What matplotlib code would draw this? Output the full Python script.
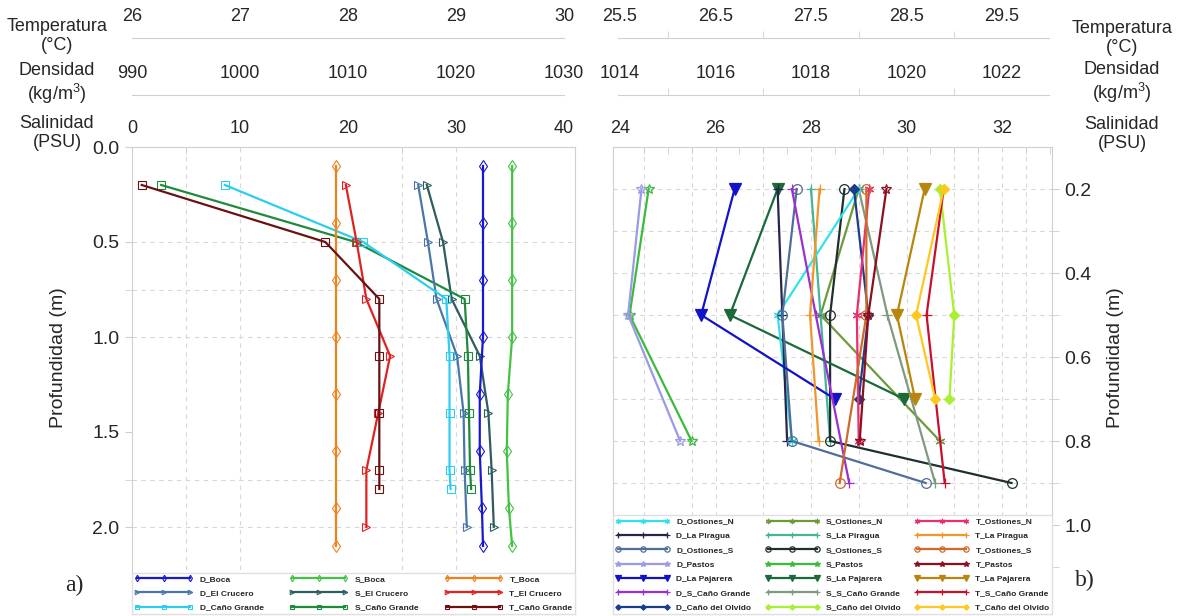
import matplotlib
matplotlib.use("Agg")
import matplotlib.pyplot as plt

plt.rcParams["font.family"] = ["Liberation Sans", "DejaVu Sans"]
plt.rcParams["mathtext.fontset"] = "custom"
plt.rcParams["mathtext.rm"] = "Liberation Sans"

# ---------------- a) Boca, El Crucero, Caño Grande ----------------
prof_boca = [0.1, 0.4, 0.7, 1.0, 1.3, 1.6, 1.9, 2.1]
dens_boca = [1022.5, 1022.5, 1022.5, 1022.5, 1022.2, 1022.2, 1022.4, 1022.5]
sal_boca = [35.2, 35.2, 35.2, 35.2, 34.8, 34.7, 34.9, 35.2]
temp_boca = [27.89, 27.89, 27.89, 27.89, 27.89, 27.89, 27.89, 27.89]

prof_crucero = [0.2, 0.5, 0.8, 1.1, 1.4, 1.7, 2.0]
dens_crucero = [1016.5, 1017.4, 1018.2, 1020.1, 1020.7, 1020.8, 1021.0]
sal_crucero = [27.3, 28.8, 29.6, 32.2, 33.0, 33.3, 33.5]
temp_crucero = [27.98, 28.08, 28.17, 28.39, 28.28, 28.17, 28.17]

prof_cgrande = [0.2, 0.5, 0.8, 1.1, 1.4, 1.7, 1.8]
dens_cgrande = [998.6, 1011.4, 1019.1, 1019.4, 1019.4, 1019.4, 1019.5]
sal_cgrande = [2.7, 20.7, 30.8, 31.1, 31.2, 31.3, 31.4]
temp_cgrande = [26.09, 27.79, 28.29, 28.29, 28.29, 28.29, 28.29]

# ---------------- b) resto de estaciones ----------------
p_a = [0.2, 0.5, 0.8]
p_b = [0.2, 0.5, 0.7]
p_c = [0.2, 0.5, 0.9]
p_d = [0.2, 0.5, 0.8, 0.9]

d_ost_n = [1019.0, 1017.3, 1017.6]
d_piragua = [1017.3, 1017.4, 1017.5]
d_ost_s = [1017.7, 1017.4, 1017.6, 1020.4]
d_pastos = [1014.45, 1014.17, 1015.26]
d_pajarera = [1016.4, 1015.7, 1018.5]
d_s_cgrande = [1017.6, 1018.1, 1018.8]
d_olvido = [1018.9, 1019.2, 1019.0]

s_ost_n = [29.0, 28.2, 30.7]
s_piragua = [28.0, 28.2, 28.4]
s_ost_s = [28.7, 28.4, 28.4, 32.2]
s_pastos = [24.6, 24.2, 25.5]
s_pajarera = [27.3, 26.3, 29.95]
s_s_cgrande = [29.0, 29.6, 30.6]
s_olvido = [30.7, 31.0, 30.9]

t_ost_n = [28.11, 27.98, 28.0]
t_piragua = [27.59, 27.49, 27.58]
t_ost_s = [28.08, 28.08, 27.8]
t_pastos = [28.29, 28.1, 28.01]
t_pajarera = [28.69, 28.4, 28.59]
t_s_cgrande = [28.89, 28.71, 28.9]
t_olvido = [28.89, 28.6, 28.8]

W, H = 1177, 616
GRIS = "#cfcfcf"
REJILLA = "#d8d8d8"
TXT = "#262626"

fig = plt.figure(figsize=(W / 100, H / 100), dpi=100)


def caja(x0, y0, x1, y1):
    # caja en pixeles (origen arriba a la izquierda) -> fraccion de figura
    return [x0 / W, 1 - y1 / H, (x1 - x0) / W, (y1 - y0) / H]


def rango(px0, px1, px_ref, v_ref, ppu):
    return (v_ref + (px0 - px_ref) / ppu, v_ref + (px1 - px_ref) / ppu)


def panel(box, ylim):
    ax_s = fig.add_axes(caja(*box))
    ax_s.set_ylim(*ylim)
    ax_d = ax_s.twiny()
    ax_t = ax_s.twiny()
    for a in (ax_d, ax_t):
        a.set_xticks([])
        for sp in a.spines.values():
            sp.set_visible(False)
    for sp in ax_s.spines.values():
        sp.set_color(GRIS)
    return ax_s, ax_d, ax_t


def escala(x0, x1, y, lims, etiquetas, marcas, fmt):
    e = fig.add_axes(caja(x0, y - 0.5, x1, y + 0.5))
    e.set_xlim(*lims)
    e.set_ylim(0, 1)
    for k, sp in e.spines.items():
        sp.set_visible(k == "top")
    e.spines["top"].set_color(GRIS)
    e.patch.set_visible(False)
    e.xaxis.set_ticks_position("top")
    e.set_xticks(etiquetas)
    e.set_xticklabels([fmt.format(v) for v in etiquetas])
    e.set_xticks(marcas, minor=True)
    e.tick_params(axis="x", which="major", length=0, pad=9, labelsize=13, labelcolor=TXT)
    e.tick_params(axis="x", which="minor", length=5, direction="out", color=GRIS)
    e.set_yticks([])


def rejilla(ax, hs, vs):
    for h in hs:
        ax.axhline(h, color=REJILLA, lw=0.8, ls=(0, (4, 4)), zorder=0)
    for v in vs:
        ax.axvline(v, color=REJILLA, lw=0.8, ls=(0, (4, 4)), zorder=0)


def leyenda(ax, handles, hl, colsp):
    lg = ax.legend(handles=handles, ncol=3, loc="lower left", bbox_to_anchor=(0, 0, 1, 0.1),
                   mode="expand", borderaxespad=0, numpoints=3, handlelength=hl,
                   handletextpad=0.8, columnspacing=colsp, labelspacing=0.78,
                   markerscale=0.55, prop={"size": 6, "weight": "bold"}, frameon=True,
                   fancybox=False, edgecolor="#e0e0e0", framealpha=1, borderpad=0.3)
    for t in lg.get_texts():
        t.set_color(TXT)
    return lg


# ================= panel a =================
box_a = (132, 147, 575, 614)
ax_as, ax_ad, ax_at = panel(box_a, ((614 - 147) / 190, 0.0))
ax_as.set_xlim(*rango(132, 575, 132, 0, 10.8))
ax_ad.set_xlim(*rango(132, 575, 132, 990, 10.8))
ax_at.set_xlim(*rango(132, 575, 132, 26, 108))

ax_as.xaxis.set_ticks_position("top")
ax_as.set_xticks([0, 10, 20, 30, 40])
ax_as.set_xticks([5, 10, 25, 30], minor=True)
ax_as.tick_params(axis="x", which="major", length=0, pad=7, labelsize=13, labelcolor=TXT)
ax_as.tick_params(axis="x", which="minor", length=5, direction="in", color=GRIS)
ax_as.set_yticks([0.0, 0.5, 1.0, 1.5, 2.0])
ax_as.set_yticklabels(["0.0", "0.5", "1.0", "1.5", "2.0"])
ax_as.set_yticks([0.75, 1.75], minor=True)
ax_as.tick_params(axis="y", which="both", length=5, color=GRIS, labelsize=14, labelcolor=TXT, pad=4)
ax_as.set_ylabel("Profundidad (m)", fontsize=14, color=TXT)
ax_as.yaxis.set_label_coords(-0.147, 0.548)
rejilla(ax_as, [0.5, 0.75, 1.0, 1.75, 2.0], [5, 10, 25, 30])

series_a = [
    ("D_Boca", ax_ad, prof_boca, dens_boca, "#1818d0", "d"),
    ("D_El Crucero", ax_ad, prof_crucero, dens_crucero, "#4a76a8", ">"),
    ("D_Caño Grande", ax_ad, prof_cgrande, dens_cgrande, "#2ccdf0", "s"),
    ("S_Boca", ax_as, prof_boca, sal_boca, "#44c244", "d"),
    ("S_El Crucero", ax_as, prof_crucero, sal_crucero, "#2f5c5e", ">"),
    ("S_Caño Grande", ax_as, prof_cgrande, sal_cgrande, "#1f8a3c", "s"),
    ("T_Boca", ax_at, prof_boca, temp_boca, "#f0821e", "d"),
    ("T_El Crucero", ax_at, prof_crucero, temp_crucero, "#e02222", ">"),
    ("T_Caño Grande", ax_at, prof_cgrande, temp_cgrande, "#6a1212", "s"),
]
h_a = []
for nombre, ax, prof, val, col, mk in series_a:
    ln, = ax.plot(val, prof, color=col, lw=1.6, marker=mk, ms=6, mfc="none",
                  mec=col, mew=0.8, label=nombre)
    h_a.append(ln)
leyenda(ax_at, h_a, 7.0, 1.5)

escala(132, 564, 38, (26, 30), [26, 27, 28, 29, 30], [27, 29], "{:g}")
escala(132, 564, 95, (990, 1030), [990, 1000, 1010, 1020, 1030], [1000, 1020], "{:g}")

# ================= panel b =================
box_b = (613, 147, 1052, 614)
ax_bs, ax_bd, ax_bt = panel(box_b, (0.2 + (614 - 189) / 420, 0.2 - (189 - 147) / 420))
ax_bs.set_xlim(*rango(613, 1052, 620, 24, 47.75))
ax_bd.set_xlim(*rango(613, 1052, 620, 1014, 47.75))
ax_bt.set_xlim(*rango(613, 1052, 620, 25.5, 95.5))

ax_bs.xaxis.set_ticks_position("top")
ax_bs.set_xticks([24, 26, 28, 30, 32])
ax_bs.set_xticks([24.5 + 0.5 * i for i in range(18)], minor=True)
ax_bs.tick_params(axis="x", which="major", length=0, pad=7, labelsize=13, labelcolor=TXT)
ax_bs.tick_params(axis="x", which="minor", length=5, direction="in", color=GRIS)
ax_bs.yaxis.tick_right()
ax_bs.yaxis.set_label_position("right")
ax_bs.set_yticks([0.2, 0.4, 0.6, 0.8, 1.0])
ax_bs.set_yticklabels(["0.2", "0.4", "0.6", "0.8", "1.0"])
ax_bs.set_yticks([0.3, 0.5, 0.7, 0.9, 1.1], minor=True)
ax_bs.tick_params(axis="y", which="both", length=5, color=GRIS, labelsize=14, labelcolor=TXT, pad=4)
ax_bs.set_ylabel("Profundidad (m)", fontsize=14, color=TXT, rotation=90)
ax_bs.yaxis.set_label_coords(1.125, 0.55)
rejilla(ax_bs, [0.2, 0.3, 0.4, 0.5, 0.6, 0.7, 0.8, 0.9, 1.0],
        [24.5, 25.5, 26, 27, 28, 29, 30, 31, 31.5, 32, 32.5])

AST = (6, 2, 0)
series_b = [
    ("D_Ostiones_N", ax_bd, p_a, d_ost_n, "#32e2ea", AST, "none"),
    ("D_La Piragua", ax_bd, p_a, d_piragua, "#25254f", "+", "none"),
    ("D_Ostiones_S", ax_bd, p_d, d_ost_s, "#4f6f99", "o", "none"),
    ("D_Pastos", ax_bd, p_a, d_pastos, "#9a9ae6", "*", "none"),
    ("D_La Pajarera", ax_bd, p_b, d_pajarera, "#1212c8", "v", None),
    ("D_S_Caño Grande", ax_bd, p_c, d_s_cgrande, "#9a30d0", "+", "none"),
    ("D_Caño del Olvido", ax_bd, p_b, d_olvido, "#1c3c8c", "D", None),
    ("S_Ostiones_N", ax_bs, p_a, s_ost_n, "#6f9a3a", AST, "none"),
    ("S_La Piragua", ax_bs, p_a, s_piragua, "#46b496", "+", "none"),
    ("S_Ostiones_S", ax_bs, p_d, s_ost_s, "#1f2f2f", "o", "none"),
    ("S_Pastos", ax_bs, p_a, s_pastos, "#3cba3c", "*", "none"),
    ("S_La Pajarera", ax_bs, p_b, s_pajarera, "#1a6a3a", "v", None),
    ("S_S_Caño Grande", ax_bs, p_c, s_s_cgrande, "#7f9a7f", "+", "none"),
    ("S_Caño del Olvido", ax_bs, p_b, s_olvido, "#a8f030", "D", None),
    ("T_Ostiones_N", ax_bt, p_a, t_ost_n, "#e83070", AST, "none"),
    ("T_La Piragua", ax_bt, p_a, t_piragua, "#f0962a", "+", "none"),
    ("T_Ostiones_S", ax_bt, p_c, t_ost_s, "#d06a2a", "o", "none"),
    ("T_Pastos", ax_bt, p_a, t_pastos, "#8a0f1f", "*", "none"),
    ("T_La Pajarera", ax_bt, p_b, t_pajarera, "#b8860b", "v", None),
    ("T_S_Caño Grande", ax_bt, p_c, t_s_cgrande, "#c8102e", "+", "none"),
    ("T_Caño del Olvido", ax_bt, p_b, t_olvido, "#ffc820", "D", None),
]
h_b = []
for nombre, ax, prof, val, col, mk, fc in series_b:
    ms = 8 if mk == "v" else (5 if mk == "D" else 7)
    ln, = ax.plot(val, prof, color=col, lw=1.6, marker=mk, ms=ms,
                  mfc=col if fc is None else fc, mec=col, mew=0.9, label=nombre)
    h_b.append(ln)
leyenda(ax_bt, h_b, 6.5, 1.2)

escala(618, 1049, 38, rango(618, 1049, 620, 25.5, 95.5), [25.5, 26.5, 27.5, 28.5, 29.5],
       [26 + 0.5 * i for i in range(8)], "{:g}")
escala(618, 1049, 95, rango(618, 1049, 620, 1014, 47.75), [1014, 1016, 1018, 1020, 1022],
       [1015 + i for i in range(8)], "{:g}")

# ---------------- rotulos de los ejes superiores ----------------
rotulos = ["Temperatura\n(°C)", "Densidad\n(kg/m$^{3}$)", "Salinidad\n(PSU)"]
alturas_izq = [36, 84, 133]
alturas_der = [38, 83, 134]
for txt, yi, yd in zip(rotulos, alturas_izq, alturas_der):
    fig.text(57 / W, 1 - yi / H, txt, ha="center", va="center", fontsize=13,
             color=TXT, linespacing=1.2)
    fig.text(1122 / W, 1 - yd / H, txt, ha="center", va="center", fontsize=13,
             color=TXT, linespacing=1.2)

fig.text(74 / W, 1 - 585 / H, "a)", ha="center", va="center", fontsize=17,
         family="Liberation Serif", color=TXT)
fig.text(1085 / W, 1 - 580 / H, "b)", ha="center", va="center", fontsize=17,
         family="Liberation Serif", color=TXT)

fig.savefig("out.png", dpi=100)
